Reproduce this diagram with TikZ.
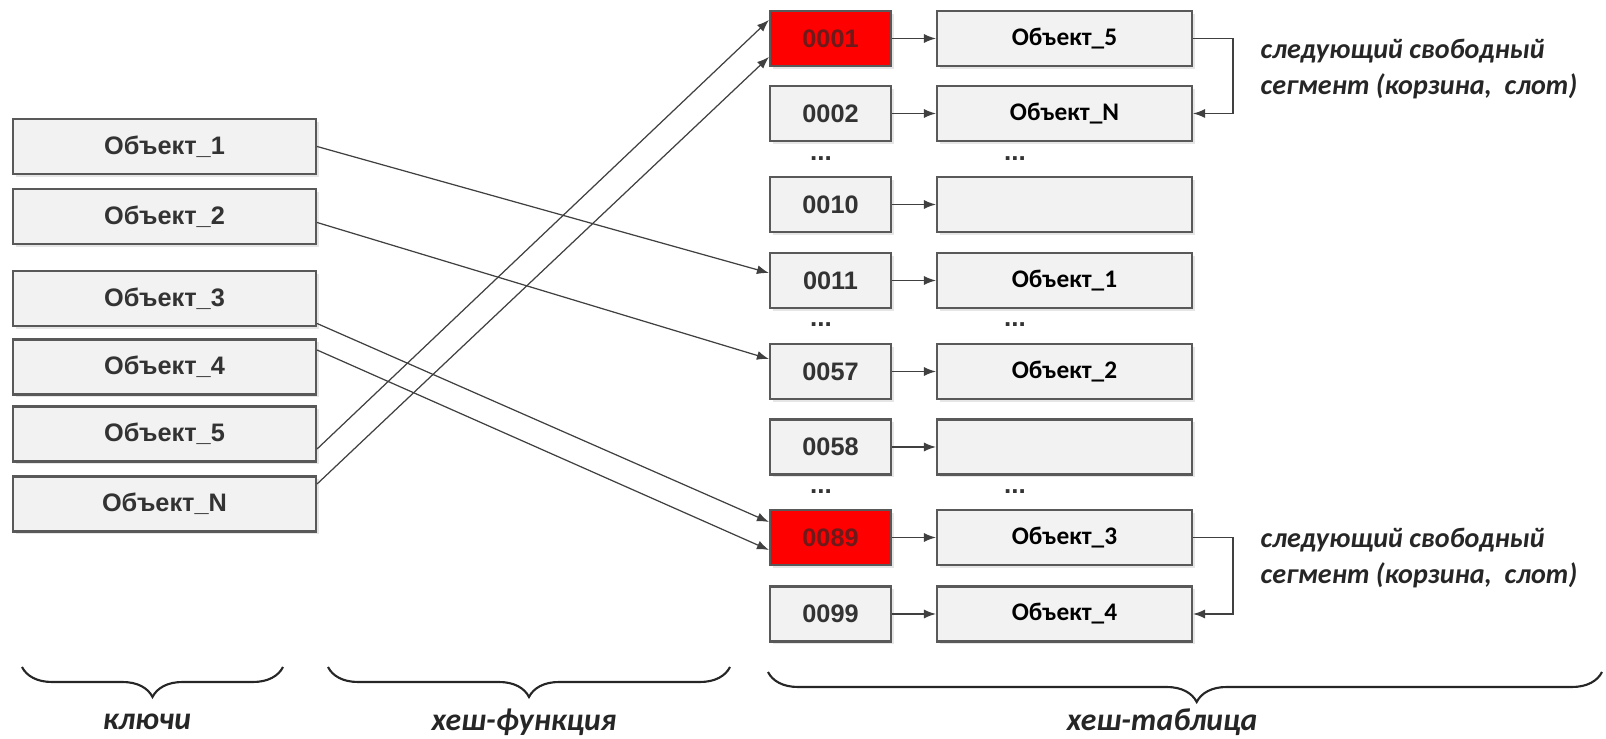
\documentclass[tikz,border=0pt]{standalone}
\usepackage{fontspec}
\setmainfont{Liberation Sans}
\newfontfamily\calfont{Carlito}
\usetikzlibrary{positioning,arrows.meta,decorations.pathreplacing,shadows}

\definecolor{boxfill}{HTML}{F2F2F2}
\definecolor{boxline}{HTML}{595959}
\definecolor{boxtext}{HTML}{333333}
\definecolor{hitred}{HTML}{FF0000}
\definecolor{hittext}{HTML}{6E1A1A}
\definecolor{arrline}{HTML}{404040}

\begin{document}
\begin{tikzpicture}[x=0.1mm,y=-0.1mm,
            cell/.style={draw=boxline, fill=boxfill, line width=0.6pt, inner sep=0pt,
                minimum height=5.5mm, text=boxtext,
                font=\fontsize{7.2}{8}\selectfont\bfseries,
                drop shadow={shadow xshift=0.3mm, shadow yshift=-0.3mm, opacity=0.2}},
            key/.style={cell, minimum width=30.3mm},
            bucket/.style={cell, minimum width=12.1mm},
            hit/.style={bucket, fill=hitred, text=hittext},
            slot/.style={cell, minimum width=25.5mm, text=black,
                font=\calfont\fontsize{7.2}{8}\selectfont\bfseries},
            dots/.style={text=boxtext, font=\fontsize{7.4}{8}\selectfont\bfseries},
            arr/.style={draw=arrline, line width=0.35pt, -{Latex[length=1.2mm,width=0.9mm]}},
            lbl/.style={inner sep=0pt, align=left, text=black!85,
                font=\calfont\fontsize{9}{10.4}\selectfont\bfseries\itshape},
            note/.style={lbl, anchor=west, font=\calfont\fontsize{8}{10.2}\selectfont\bfseries\itshape},
            brc/.style={draw=black!85, line width=0.6pt, decorate,
                decoration={brace, mirror, amplitude=3mm}}
        ]
        \useasboundingbox (0,0) rectangle (1606,739);

        % keys
        \node[key] (k1) at (164.5,146.5) {Объект\_1};
        \node[key] (k2) at (164.5,216.5) {Объект\_2};
        \node[key] (k3) at (164.5,298.5) {Объект\_3};
        \node[key] (k4) at (164.5,367)   {Объект\_4};
        \node[key] (k5) at (164.5,434)   {Объект\_5};
        \node[key] (kN) at (164.5,504)   {Объект\_N};

        % buckets
        \node[hit]    (b0001) at (830.5,38.5)  {0001};
        \node[bucket] (b0002) at (830.5,113.5) {0002};
        \node[bucket] (b0010) at (830.5,204.5) {0010};
        \node[bucket] (b0011) at (830.5,280.5) {0011};
        \node[bucket] (b0057) at (830.5,371.5) {0057};
        \node[bucket] (b0058) at (830.5,447)   {0058};
        \node[hit]    (b0089) at (830.5,537.5) {0089};
        \node[bucket] (b0099) at (830.5,614)   {0099};

        % slots
        \node[slot] (s0001) at (1064.5,38.5)  {Объект\_5};
        \node[slot] (s0002) at (1064.5,113.5) {Объект\_N};
        \node[slot] (s0010) at (1064.5,204.5) {};
        \node[slot] (s0011) at (1064.5,280.5) {Объект\_1};
        \node[slot] (s0057) at (1064.5,371.5) {Объект\_2};
        \node[slot] (s0058) at (1064.5,447)   {};
        \node[slot] (s0089) at (1064.5,537.5) {Объект\_3};
        \node[slot] (s0099) at (1064.5,614)   {Объект\_4};

        \node[dots] (da1) at (821,159)  {...};
        \node[dots] (db1) at (1015,159) {...};
        \node[dots] (da2) at (821,325)  {...};
        \node[dots] (db2) at (1015,325) {...};
        \node[dots] (da3) at (821,492)  {...};
        \node[dots] (db3) at (1015,492) {...};

        % hash function
        \draw[arr] (k1.east) -- ([yshift=0.75mm]b0011.west);
        \draw[arr] ([yshift=-0.6mm]k2.east) -- ([yshift=1.25mm]b0057.west);
        \draw[arr] ([yshift=-2.5mm]k3.east) -- ([yshift=1.55mm]b0089.west);
        \draw[arr] ([yshift=1.7mm]k4.east) -- ([yshift=-1.25mm]b0089.west);
        \draw[arr] ([yshift=-1.5mm]k5.east) -- ([yshift=1.85mm]b0001.west);
        \draw[arr] ([yshift=2mm]kN.east) -- ([yshift=-1.85mm]b0001.west);

        \draw[arr] (b0001) -- (s0001);
        \draw[arr] (b0002) -- (s0002);
        \draw[arr] (b0010) -- (s0010);
        \draw[arr] (b0011) -- (s0011);
        \draw[arr] (b0057) -- (s0057);
        \draw[arr] (b0058) -- (s0058);
        \draw[arr] (b0089) -- (s0089);
        \draw[arr] (b0099) -- (s0099);

        % collisions
        \draw[arr] (s0001.east) -- ++(40,0) |- (s0002.east);
        \draw[arr] (s0089.east) -- ++(40,0) |- (s0099.east);
        \node[note] (nx1) at (1260,69)  {следующий свободный\\сегмент (корзина,\ \ слот)};
        \node[note] (nx2) at (1260,558) {следующий свободный\\сегмент (корзина,\ \ слот)};

        % braces
        \draw[brc] (22,667) -- (283,667);
        \draw[brc] (328,667) -- (730,667);
        \draw[brc, decoration={aspect=0.514}] (768,672) -- (1602,672);
        \node[lbl] (keys) at (147,722)  {ключи};
        \node[lbl] (func) at (524,722)  {хеш-функция};
        \node[lbl] (tab)  at (1162,722) {хеш-таблица};
    \end{tikzpicture}
\end{document}
